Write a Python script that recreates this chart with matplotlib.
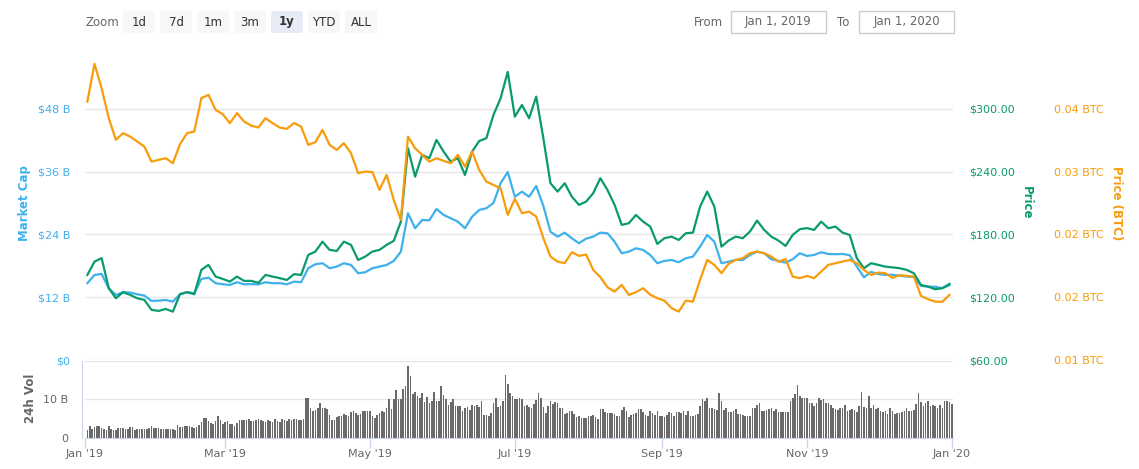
import numpy as np
import pandas as pd
import matplotlib
matplotlib.use('Agg')
import matplotlib.pyplot as plt
from matplotlib.patches import FancyBboxPatch, Rectangle

# -----------------------------
# Dados
# -----------------------------

# linhas: um ponto a cada 3 dias, a partir de 2 jan 2019
line_start = '2019-01-02'

market_cap_b = [
    14.68, 16.26, 16.45, 13.72, 12.44, 12.96, 12.90, 12.57, 12.31, 11.29,
    11.35, 11.48, 11.16, 12.57, 12.96, 12.76, 15.50, 15.75, 14.68, 14.48,
    14.35, 14.87, 14.48, 14.50, 14.45, 14.87, 14.68, 14.70, 14.48, 14.98,
    14.87, 17.54, 18.31, 18.50, 17.54, 17.85, 18.50, 18.17, 16.59, 16.78,
    17.54, 17.85, 18.17, 18.94, 20.71, 28.05, 25.18, 26.77, 26.70, 28.87,
    27.73, 27.10, 26.45, 25.18, 27.40, 28.68, 29.01, 30.02, 33.78, 35.94,
    31.22, 32.18, 31.20, 33.27, 29.45, 24.53, 23.58, 24.34, 23.27, 22.32,
    23.20, 23.58, 24.34, 24.23, 22.62, 20.41, 20.71, 21.36, 21.04, 20.08,
    18.50, 18.94, 19.13, 18.69, 19.45, 19.76, 21.67, 23.90, 22.62, 18.50,
    18.80, 19.13, 19.10, 20.08, 20.71, 20.41, 19.26, 18.94, 18.61, 19.26,
    20.41, 19.89, 20.08, 20.60, 20.27, 20.22, 20.27, 20.03, 17.85, 15.82,
    16.83, 16.45, 16.26, 16.30, 16.13, 15.94, 15.90, 14.16, 14.03, 14.00,
    13.72, 14.29,
]

price_usd = [
    141.3, 154.0, 157.3, 128.6, 119.0, 124.8, 122.2, 119.0, 117.4, 107.9,
    106.9, 108.8, 106.2, 122.9, 124.8, 122.9, 146.1, 150.9, 139.7, 137.5,
    134.9, 139.7, 135.6, 135.6, 133.7, 141.3, 139.7, 138.2, 136.5, 142.0,
    141.3, 160.4, 163.6, 173.1, 165.2, 164.2, 173.1, 170.0, 155.6, 158.8,
    163.6, 165.2, 170.0, 173.8, 192.2, 262.4, 235.2, 256.0, 252.8, 270.3,
    259.1, 249.6, 252.8, 236.8, 259.1, 269.3, 271.9, 294.2, 310.1, 335.3,
    292.5, 303.7, 291.0, 311.7, 271.9, 228.9, 220.9, 228.9, 216.1, 208.2,
    211.3, 219.4, 233.7, 222.5, 208.2, 189.1, 190.7, 198.6, 192.2, 187.5,
    170.9, 176.4, 177.9, 174.7, 181.1, 181.7, 206.6, 220.9, 206.6, 168.3,
    174.1, 177.9, 176.4, 182.7, 193.2, 184.3, 177.9, 174.1, 169.0, 179.5,
    185.0, 186.0, 184.3, 192.2, 185.9, 187.5, 181.7, 179.5, 157.3, 147.7,
    152.5, 150.9, 149.2, 148.5, 147.7, 146.1, 142.9, 131.8, 130.1, 127.6,
    128.6, 132.7,
]

price_btc = [
    0.04086, 0.04536, 0.04246, 0.03888, 0.03629, 0.03709, 0.03668, 0.03608, 0.03549, 0.03369,
    0.03390, 0.03410, 0.03350, 0.03577, 0.03709, 0.03728, 0.04127, 0.04166, 0.03987, 0.03936,
    0.03828, 0.03948, 0.03847, 0.03799, 0.03776, 0.03888, 0.03828, 0.03776, 0.03760, 0.03830,
    0.03787, 0.03569, 0.03601, 0.03748, 0.03569, 0.03509, 0.03589, 0.03470, 0.03231, 0.03250,
    0.03245, 0.03031, 0.03211, 0.02912, 0.02673, 0.03668, 0.03529, 0.03449, 0.03369, 0.03410,
    0.03378, 0.03350, 0.03449, 0.03310, 0.03489, 0.03270, 0.03131, 0.03091, 0.03052, 0.02733,
    0.02924, 0.02753, 0.02772, 0.02713, 0.02455, 0.02235, 0.02175, 0.02156, 0.02287, 0.02243,
    0.02259, 0.02076, 0.01989, 0.01869, 0.01817, 0.01897, 0.01777, 0.01810, 0.01857, 0.01780,
    0.01738, 0.01709, 0.01619, 0.01578, 0.01709, 0.01697, 0.01957, 0.02195, 0.02136, 0.02037,
    0.02148, 0.02195, 0.02216, 0.02275, 0.02295, 0.02275, 0.02235, 0.02175, 0.02204, 0.01996,
    0.01977, 0.02004, 0.01977, 0.02056, 0.02136, 0.02156, 0.02175, 0.02195, 0.02156, 0.02076,
    0.02016, 0.02044, 0.02037, 0.01980, 0.02013, 0.02004, 0.01996, 0.01766, 0.01726, 0.01697,
    0.01695, 0.01777,
]

# volume diario (bilhoes), 2 jan 2019 -> 1 jan 2020
volume_b = [
    2.0, 3.0, 2.3, 2.9, 3.0, 3.0, 2.5, 2.3, 2.0, 3.0,
    2.2, 2.0, 2.0, 2.4, 2.5, 2.5, 2.3, 2.2, 2.7, 2.7,
    2.0, 2.2, 2.2, 2.2, 2.2, 2.3, 2.5, 3.0, 2.5, 2.5,
    2.5, 2.2, 2.2, 2.2, 2.2, 2.2, 2.2, 2.0, 3.3, 2.7,
    2.9, 3.0, 3.0, 3.0, 2.7, 2.5, 2.7, 3.2, 4.1, 5.1,
    5.1, 4.3, 3.9, 3.6, 4.3, 5.6, 4.6, 3.6, 4.1, 4.3,
    3.6, 3.6, 3.0, 3.7, 4.6, 4.5, 4.5, 4.6, 4.8, 4.3,
    4.3, 4.5, 4.8, 4.6, 4.3, 4.1, 4.7, 4.3, 4.1, 4.8,
    4.3, 4.1, 4.8, 4.7, 4.3, 4.8, 4.5, 4.8, 4.8, 4.7,
    4.5, 4.8,
    10.2, 10.4, 7.6, 7.0, 7.3, 7.6, 8.9, 7.6, 7.6, 7.5,
    6.0, 4.6, 4.6, 5.3, 5.5, 5.5, 6.2, 5.8, 5.7, 6.6,
    6.8, 6.4, 6.0, 6.2, 7.0, 6.8, 7.0, 6.8, 5.6, 5.2,
    6.0, 6.3, 7.0, 6.6, 7.8, 10.0, 7.4, 10.0, 12.4, 10.0,
    10.0, 12.6, 13.3, 18.7, 16.1, 11.2, 11.8, 10.7, 10.2, 11.6,
    9.3, 10.5,
    8.9, 9.4, 11.9, 9.5, 9.5, 13.5, 11.1, 10.0, 8.6, 9.3,
    10.1, 8.2, 8.1, 8.2, 7.0, 7.6, 8.0, 7.3, 8.5, 8.3,
    8.5, 8.0, 9.5, 5.9, 5.9, 5.7, 6.3, 9.0, 10.3, 8.0,
    8.1, 9.5, 16.3, 14.0, 11.5, 10.9, 10.1, 10.1, 10.3, 10.1,
    8.3, 8.5, 7.9, 7.6, 8.7, 9.7, 11.6, 10.2, 8.0, 6.4,
    8.2, 9.5, 8.7, 9.2, 8.9,
    7.6, 7.8, 6.2, 6.5, 6.9, 7.0, 6.2, 5.3, 5.6, 5.1,
    5.1, 5.1, 5.6, 5.6, 5.8, 5.3, 4.9, 7.5, 7.5, 6.7,
    6.5, 6.5, 6.3, 6.2, 5.5, 5.6, 7.1, 8.0, 6.9, 5.3,
    5.8, 6.2, 6.3, 7.5, 7.5, 6.7, 6.0, 5.6, 6.9, 6.3,
    5.8, 6.9, 5.6, 5.5, 5.3, 5.8, 6.7, 6.5, 5.6, 6.7,
    6.7, 6.3, 6.9, 5.8, 6.9, 5.6, 5.6, 5.8, 6.2, 8.1,
    10.0, 9.5, 10.3, 7.7, 7.6, 7.4, 7.2, 11.6, 9.5, 7.2,
    7.6, 6.7, 6.7, 7.0, 7.4, 6.2, 6.2, 6.0, 5.6, 5.6,
    5.5, 7.7, 7.6, 8.6, 9.1, 7.0, 6.9, 7.2, 7.4, 7.6,
    6.9, 7.4, 6.7, 6.7, 6.7, 6.7, 6.7, 9.5, 10.2, 11.2,
    13.7, 10.7, 10.3, 10.3, 10.3, 9.1, 8.9, 8.2, 8.9, 10.2,
    9.8, 10.0, 9.1, 8.9, 8.4, 7.6, 7.4, 7.2, 7.6, 7.8,
    8.4, 7.0, 7.2, 7.4, 7.2, 6.7, 8.2, 11.9, 7.9, 7.6,
    10.9, 7.6, 8.4, 7.4, 7.6, 7.0, 6.7, 6.9, 6.2, 7.7,
    6.9, 6.2, 6.3, 6.5, 6.7, 7.0, 7.7, 7.0, 7.0,
    7.2, 8.8, 11.5, 9.3, 8.1, 9.1, 9.5, 8.1, 8.4, 8.2,
    7.7, 8.4, 7.7, 9.5, 9.5, 9.3, 8.8,
]

# eixos
mc_ticks = [0, 12, 24, 36, 48]
mc_labels = ['$0', '$12 B', '$24 B', '$36 B', '$48 B']
usd_ticks = [60, 120, 180, 240, 300]
usd_labels = ['$60.00', '$120.00', '$180.00', '$240.00', '$300.00']
btc_ticks = [0.01, 0.0175, 0.025, 0.0325, 0.04]
btc_labels = ['0.01 BTC', '0.02 BTC', '0.02 BTC', '0.03 BTC', '0.04 BTC']
vol_ticks = [0, 10, 20]
vol_labels = ['0', '10 B', '']
month_ticks = ['2019-01-01', '2019-03-01', '2019-05-01', '2019-07-01',
               '2019-09-01', '2019-11-01', '2020-01-01']
month_labels = ["Jan '19", "Mar '19", "May '19", "Jul '19",
                "Sep '19", "Nov '19", "Jan '20"]
zoom_buttons = ['1d', '7d', '1m', '3m', '1y', 'YTD', 'ALL']
selected_button = '1y'
date_from = 'Jan 1, 2019'
date_to = 'Jan 1, 2020'

# -----------------------------
# Cores / layout
# -----------------------------
AZUL = '#3eb1ed'
VERDE = '#0a9b6c'
LARANJA = '#f89c0c'
CINZA = '#666666'
GRADE = '#e6e6e6'
EIXO = '#ccd6eb'
BARRA = '#6a6a6a'

plt.rcParams['font.family'] = ['DejaVu Sans']

W, H = 1139, 469
fig = plt.figure(figsize=(W / 100, H / 100), dpi=100)


def caixa_px(x0, y0, x1, y1):
    """Converte uma caixa em pixels para fracao da figura."""
    return [x0 / W, 1 - y1 / H, (x1 - x0) / W, (y1 - y0) / H]


line_dates = pd.date_range(line_start, periods=len(market_cap_b), freq='3D')
vol_dates = pd.date_range(line_start, periods=len(volume_b), freq='D')
x_min = pd.Timestamp('2019-01-01')
x_max = pd.Timestamp('2020-01-01 12:00')

# painel principal
ax_mc = fig.add_axes(caixa_px(85, 52, 953, 360))
ax_usd = ax_mc.twinx()
ax_btc = ax_mc.twinx()

ax_mc.plot(line_dates, market_cap_b, color=AZUL, lw=1.6, solid_joinstyle='round')
ax_usd.plot(line_dates, price_usd, color=VERDE, lw=1.6, solid_joinstyle='round')
ax_btc.plot(line_dates, price_btc, color=LARANJA, lw=1.6, solid_joinstyle='round')

ax_mc.set_ylim(0, 58.88)
ax_usd.set_ylim(60, 354.3)
ax_btc.set_ylim(0.01, 0.04678)

ax_mc.set_yticks(mc_ticks, mc_labels)
ax_mc.tick_params(axis='y', length=0, pad=10.5, labelsize=8, labelcolor=AZUL)
ax_mc.yaxis.grid(True, color=GRADE, lw=1)
ax_mc.set_axisbelow(True)

ax_usd.set_yticks(usd_ticks, usd_labels)
ax_usd.tick_params(axis='y', length=0, pad=11.5, labelsize=8, labelcolor=VERDE)

ax_btc.set_yticks(btc_ticks, btc_labels)
ax_btc.tick_params(axis='y', length=0, pad=72.5, labelsize=8, labelcolor=LARANJA)

for a in (ax_mc, ax_usd, ax_btc):
    for s in a.spines.values():
        s.set_visible(False)
    a.tick_params(axis='x', bottom=False, labelbottom=False)
    a.set_xlim(x_min, x_max)

# painel de volume
ax_v = fig.add_axes(caixa_px(85, 360.5, 953, 437.7))
ax_v.bar(vol_dates, volume_b, width=0.68, color=BARRA, linewidth=0)
ax_v.set_xlim(x_min, x_max)
ax_v.set_ylim(0, 20)
ax_v.set_yticks(vol_ticks, vol_labels)
ax_v.tick_params(axis='y', length=0, pad=10, labelsize=8, labelcolor=CINZA)
ax_v.yaxis.grid(True, color=GRADE, lw=1)
ax_v.set_axisbelow(True)
ax_v.spines['top'].set_visible(False)
ax_v.spines['right'].set_visible(False)
ax_v.spines['bottom'].set_color(EIXO)
ax_v.spines['left'].set_color(EIXO)
ax_v.spines['left'].set_position(('outward', 2.2))
ax_v.set_xticks(pd.to_datetime(month_ticks), month_labels)
ax_v.tick_params(axis='x', color=EIXO, length=7, width=1, pad=1,
                 labelsize=8, labelcolor=CINZA)

# titulos dos eixos
fig.text(25 / W, 1 - 203 / H, 'Market Cap', rotation=90, color=AZUL, fontsize=8.5,
         fontweight='bold', ha='center', va='center')
fig.text(1026 / W, 1 - 203 / H, 'Price', rotation=270, color=VERDE, fontsize=8.5,
         fontweight='bold', ha='center', va='center')
fig.text(1116 / W, 1 - 203 / H, 'Price (BTC)', rotation=270, color=LARANJA, fontsize=8.5,
         fontweight='bold', ha='center', va='center')
fig.text(30 / W, 1 - 398 / H, '24h Vol', rotation=90, color=CINZA, fontsize=8.5,
         fontweight='bold', ha='center', va='center')

# -----------------------------
# Barra de controles (zoom / datas)
# -----------------------------
ax_ui = fig.add_axes([0, 0, 1, 1])
ax_ui.set_xlim(0, W)
ax_ui.set_ylim(H, 0)
ax_ui.axis('off')

ax_ui.text(85, 22, 'Zoom', color=CINZA, fontsize=8.5, ha='left', va='center')
for i, rotulo in enumerate(zoom_buttons):
    x0 = 123 + i * 37
    ativo = rotulo == selected_button
    ax_ui.add_patch(FancyBboxPatch((x0, 11), 32, 22, boxstyle='round,pad=0,rounding_size=2',
                                   facecolor='#e6ebf5' if ativo else '#f7f7f7',
                                   edgecolor='none'))
    ax_ui.text(x0 + 16, 22, rotulo, color='#333333', fontsize=8.5, ha='center', va='center',
               fontweight='bold' if ativo else 'normal')

ax_ui.text(694, 22, 'From', color=CINZA, fontsize=8.5, ha='left', va='center')
ax_ui.add_patch(Rectangle((731, 11), 95, 22, facecolor='white', edgecolor='#cccccc', lw=1))
ax_ui.text(778.5, 22, date_from, color=CINZA, fontsize=8.5, ha='center', va='center')
ax_ui.text(837, 22, 'To', color=CINZA, fontsize=8.5, ha='left', va='center')
ax_ui.add_patch(Rectangle((859, 11), 95, 22, facecolor='white', edgecolor='#cccccc', lw=1))
ax_ui.text(906.5, 22, date_to, color=CINZA, fontsize=8.5, ha='center', va='center')

fig.savefig('out.png', dpi=100)
